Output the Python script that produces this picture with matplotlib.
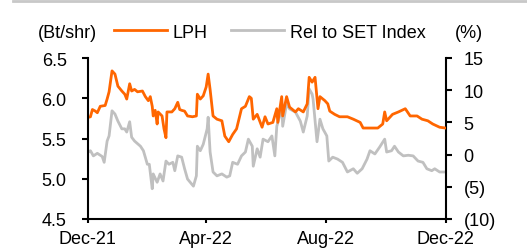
import numpy as np
import pandas as pd
import matplotlib
matplotlib.use("Agg")
import matplotlib.pyplot as plt
import matplotlib.dates as mdates
from matplotlib.lines import Line2D

plt.rcParams['font.family'] = ['Liberation Sans', 'DejaVu Sans']
plt.rcParams['font.size'] = 13

# data (days counted from 1 Dec 2021)
start = pd.Timestamp("2021-12-01")
lph_days = [0, 3, 5, 8, 10, 13, 18, 20, 22, 25, 28, 31, 35, 38, 40, 43, 45, 48, 51, 56,
            59, 62, 64, 66, 67, 69, 71, 72, 76, 78, 80, 81, 86, 89, 92, 94, 96, 99, 102, 107,
            111, 112, 115, 118, 121, 123, 125, 128, 132, 137, 140, 144, 148, 152, 155, 157, 161, 165, 167, 169,
            173, 178, 181, 184, 189, 193, 194, 198, 199, 203, 206, 212, 215, 220, 224, 226, 229, 232, 235, 237,
            242, 245, 247, 252, 257, 265, 271, 278, 281, 296, 301, 303, 305, 311, 317, 324, 329, 336, 341, 347,
            352, 359, 365]
lph_price = [5.76, 5.77, 5.86, 5.84, 5.82, 5.90, 5.91, 5.99, 6.08, 6.34, 6.30, 6.15, 6.09, 6.05, 5.99, 6.18, 6.09, 6.11, 6.08, 6.09,
             6.02, 5.97, 6.02, 5.90, 5.78, 5.85, 5.68, 5.83, 5.78, 5.62, 5.51, 5.83, 5.83, 5.87, 5.95, 5.86, 5.85, 5.84, 5.78, 5.77,
             5.78, 6.05, 5.99, 6.03, 6.14, 6.30, 6.11, 5.78, 5.74, 5.72, 5.53, 5.46, 5.55, 5.62, 5.77, 5.87, 5.90, 6.02, 6.00, 5.74,
             5.80, 5.64, 5.77, 5.68, 5.70, 5.87, 5.70, 6.02, 5.78, 6.02, 5.89, 5.83, 5.87, 5.83, 5.93, 6.26, 6.20, 6.26, 5.87, 6.02,
             5.97, 5.93, 5.84, 5.80, 5.77, 5.77, 5.74, 5.70, 5.63, 5.63, 5.68, 5.83, 5.72, 5.80, 5.83, 5.87, 5.78, 5.78, 5.74, 5.72,
             5.68, 5.64, 5.63]

rel_days = [0, 3, 6, 10, 15, 17, 20, 22, 25, 28, 31, 35, 38, 40, 43, 45, 48, 54, 57, 61,
            63, 66, 67, 71, 74, 77, 80, 83, 87, 89, 92, 96, 99, 102, 108, 111, 112, 115, 118, 122,
            123, 125, 128, 132, 137, 142, 145, 148, 153, 157, 161, 164, 168, 169, 173, 176, 179, 184, 188, 191,
            193, 196, 198, 199, 203, 206, 212, 217, 220, 224, 226, 229, 230, 234, 237, 240, 244, 246, 250, 255,
            260, 265, 271, 275, 280, 285, 288, 293, 298, 303, 305, 310, 313, 317, 322, 327, 332, 337, 342, 346,
            351, 354, 359, 365]
rel_pct = [0.3, 0.6, -0.2, 0.2, -0.3, -1.2, 2.1, 2.9, 6.8, 6.3, 5.2, 4.0, 4.0, 3.5, 5.1, 2.7, 2.1, 1.3, 0.6, -1.5,
           -1.5, -5.3, -3.0, -4.3, -3.0, -4.1, -1.0, -1.5, -1.2, -2.5, -0.2, -0.4, -2.2, -3.8, -4.9, -3.3, 1.3, 0.6, 1.6, 4.0,
           5.8, 0.4, -2.7, -3.3, -3.0, -3.5, -3.3, -1.2, -1.5, -0.2, 0.4, 2.4, 1.3, -1.8, 0.9, -0.4, 2.4, 2.0, 2.9, -0.2,
           4.4, 6.0, 8.2, 4.4, 7.9, 7.1, 6.6, 5.2, 3.5, 6.0, 10.2, 9.4, 8.6, 2.0, 5.5, 4.0, 2.9, -1.0, -0.4, -0.7,
           -1.2, -2.7, -2.2, -2.9, -2.2, -0.7, 0.6, 0.1, 1.2, 2.4, 0.4, 0.6, 1.3, 0.4, -0.2, -0.1, -0.2, -1.0, -1.2, -2.2,
           -2.5, -2.2, -2.7, -2.7]

tick_dates = ["2021-12-01", "2022-04-01", "2022-08-01", "2022-12-01"]

lph_x = start + pd.to_timedelta(lph_days, unit="D")
rel_x = start + pd.to_timedelta(rel_days, unit="D")

fig = plt.figure(figsize=(5.27, 2.51), dpi=100)
ax = fig.add_axes([87.5 / 527, 1 - 220 / 251, 358 / 527, 161 / 251])
ax2 = ax.twinx()

ax2.plot(rel_x, rel_pct, color="#c0c0c0", lw=2, zorder=1)
ax.plot(lph_x, lph_price, color="#ff6600", lw=2, zorder=2)
ax.set_zorder(ax2.get_zorder() + 1)
ax.patch.set_visible(False)

ax.set_ylim(4.5, 6.5)
ax.set_yticks(np.arange(4.5, 6.51, 0.5))
ax.yaxis.set_major_formatter(plt.FuncFormatter(lambda v, p: f"{v:.1f}"))
ax2.set_ylim(-10, 15)
ax2.set_yticks(range(-10, 16, 5))
ax2.yaxis.set_major_formatter(plt.FuncFormatter(lambda v, p: f"({abs(v):.0f})" if v < 0 else f"{v:.0f}"))

ticks = pd.to_datetime(tick_dates)
ax.set_xlim(ticks[0], ticks[-1])
ax.set_xticks(ticks)
ax.xaxis.set_major_formatter(mdates.DateFormatter("%b-%y"))

for a in (ax, ax2):
    for s in a.spines.values():
        s.set_linewidth(1.5)
    a.spines["top"].set_visible(False)
ax.spines["right"].set_visible(False)
ax2.spines["left"].set_visible(False)
ax2.spines["bottom"].set_visible(False)

ax.tick_params(axis="y", length=4, width=1.5, pad=11)
ax.tick_params(axis="x", length=3, width=1.5, pad=5)
ax2.tick_params(axis="y", length=4, width=1.5, pad=9)

fig.text(38 / 527, 1 - 33 / 251, "(Bt/shr)", ha="left", va="center")
fig.text(455 / 527, 1 - 33 / 251, "(%)", ha="left", va="center")

handles = [Line2D([], [], color="#ff6600", lw=2), Line2D([], [], color="#c0c0c0", lw=2)]
fig.legend(handles, ["LPH", "Rel to SET Index"], ncol=2, frameon=False, loc="center",
           bbox_to_anchor=(270 / 527, 1 - 33 / 251), handlelength=2.9, handletextpad=0.35,
           columnspacing=1.3, borderpad=0, borderaxespad=0)

fig.add_artist(Line2D([13 / 527, 1], [1 - 1.5 / 251] * 2, color="#c8c8c8", lw=2))

fig.savefig("out.png", dpi=100)
